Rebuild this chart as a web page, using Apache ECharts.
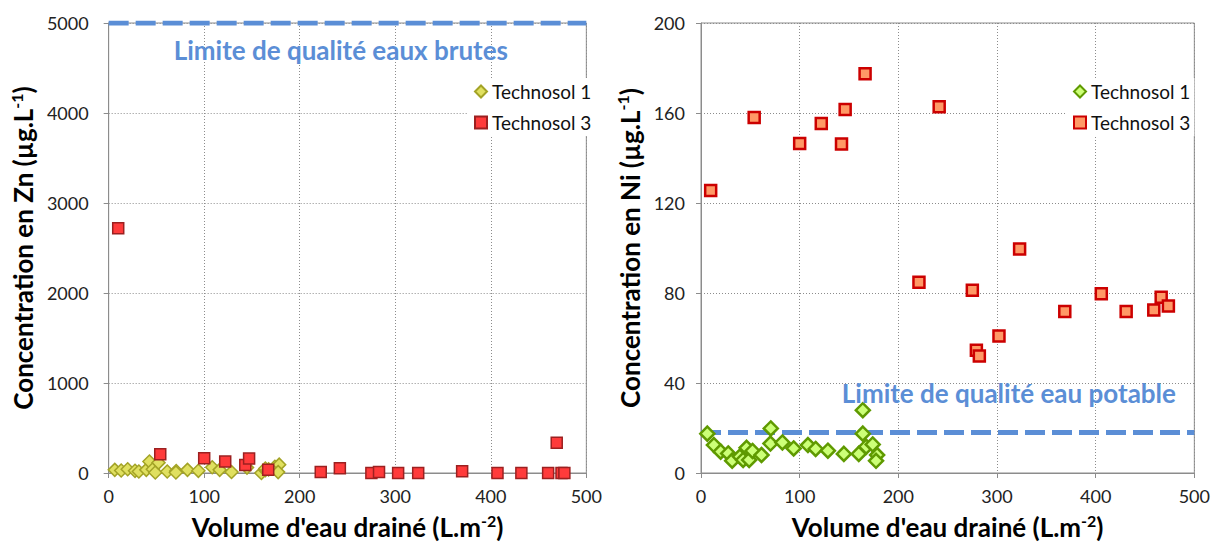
<!DOCTYPE html>
<html><head><meta charset="utf-8">
<script src="https://cdn.jsdelivr.net/npm/echarts@6/dist/echarts.min.js"></script>
<style>
html,body{margin:0;padding:0;background:#fff;width:1213px;height:545px;overflow:hidden}
#c1{position:absolute;left:0;top:0;width:605px;height:545px}
#c2{position:absolute;left:605px;top:0;width:608px;height:545px}
</style>
</head><body><div id="c1"></div><div id="c2"></div>
<script>
// ---- tick labels ----
const xTicks = [0, 100, 200, 300, 400, 500];
const znTicks = [0, 1000, 2000, 3000, 4000, 5000];
const niTicks = [0, 40, 80, 120, 160, 200];

// ---- Technosol 1 (shared drained volumes) ----
const t1Volume = [6.4, 13.1, 19.9, 27.6, 31.6, 39.4, 42.7, 46.2, 48.8, 52.2, 61.3, 70.7, 70.4, 82.5, 93.9, 108.4, 116.2, 128.6, 144.8, 159.9, 164, 164, 167.4, 174, 178.5, 177.4];
const t1Zn = [35, 28, 42, 24, 17, 35, 127, 42, 5, 115, 17, 22, 5, 35, 24, 64, 35, 11, 60, 0, 30, 50, 40, 70, 93, 10];
const t1Ni = [17.5, 12.4, 9.5, 8.7, 5.5, 7.3, 5.8, 11.2, 5.8, 9.8, 8.0, 19.8, 13.1, 13.6, 10.9, 12.4, 10.7, 9.9, 8.5, 8.5, 27.9, 17.5, 11.7, 12.7, 8.0, 5.4];

// ---- Technosol 3 ----
const t3VolumeZn = [10, 54, 100, 122, 143, 147, 167, 222, 242, 275, 283, 303, 324, 370, 407, 432, 460, 469, 474, 477];
const t3Zn = [2720, 207, 163, 127, 90, 160, 35, 10, 53, 0, 10, 0, 0, 20, 0, 0, 0, 337, 0, 0];
const t3VolumeNi = [9.8, 53.9, 100, 121.9, 142.4, 146.1, 166.3, 220.9, 241.4, 275, 279.1, 282.1, 302, 322.9, 368.7, 405.7, 430.9, 458.9, 466.4, 473.7];
const t3Ni = [125.6, 158, 146.5, 155.3, 146.2, 161.6, 177.4, 84.8, 162.8, 81.2, 54.6, 52, 60.9, 99.6, 71.8, 79.7, 71.8, 72.5, 78.1, 74.2];

// ---- quality limits ----
const limitZn = 5000, limitZnLabel = 'Limite de qualité eaux brutes';
const limitNi = 18, limitNiLabel = 'Limite de qualité eau potable';

const FONT = 'Lato, "Open Sans", sans-serif';
const zip = (xs, ys) => xs.map((x, i) => [x, ys[i]]);

function titleRich(size) {
  return {
    t: {fontSize: size, fontWeight: 'bold', fontFamily: FONT, color: '#000', lineHeight: 30},
    s: {fontSize: 16, fontWeight: 'bold', fontFamily: FONT, color: '#000', lineHeight: 16, verticalAlign: 'top'}
  };
}

function makeOption(cfg) {
  const yTicks = cfg.yTicks;
  return {
    animation: false,
    backgroundColor: '#fff',
    grid: {left: cfg.gridLeft, right: cfg.gridRight, top: 23, bottom: 68.5, show: true, borderColor: '#8c8c8c', borderWidth: 1, backgroundColor: 'transparent'},
    legend: {
      orient: 'vertical', left: cfg.legendLeft, top: 78, itemGap: 12, itemWidth: 12, itemHeight: 12,
      backgroundColor: '#fff', padding: [4, 4, 4, 6],
      textStyle: {fontSize: 19, fontFamily: FONT, color: '#111'},
      data: [{name: 'Technosol 1', icon: 'diamond'}, {name: 'Technosol 3', icon: 'rect'}]
    },
    xAxis: {
      type: 'value', min: xTicks[0], max: xTicks[xTicks.length - 1], interval: xTicks[1] - xTicks[0],
      name: '{t|Volume d\'eau drainé (L.m}{s|-2}{t|)}', nameLocation: 'middle', nameGap: 39,
      nameTextStyle: {rich: titleRich(26)},
      axisLine: {onZero: false, lineStyle: {color: '#8c8c8c', width: 1}},
      axisTick: {show: true, inside: false, length: 5, lineStyle: {color: '#8c8c8c'}},
      axisLabel: {fontSize: 18, fontFamily: FONT, color: '#222', margin: 14, formatter: v => String(v)},
      splitLine: {show: true, lineStyle: {color: '#8c8c8c', type: [1, 2], width: 1}}
    },
    yAxis: {
      type: 'value', min: yTicks[0], max: yTicks[yTicks.length - 1], interval: yTicks[1] - yTicks[0],
      name: cfg.yName, nameLocation: 'middle', nameGap: cfg.nameGapY,
      nameTextStyle: {rich: titleRich(26)},
      axisLine: {show: true, lineStyle: {color: '#8c8c8c', width: 1}},
      axisTick: {show: true, inside: false, length: 5, lineStyle: {color: '#8c8c8c'}},
      axisLabel: {fontSize: 18, fontFamily: FONT, color: '#222', margin: cfg.labelMargin, formatter: v => String(v)},
      splitLine: {show: true, lineStyle: {color: '#8c8c8c', type: [1, 2], width: 1}}
    },
    series: [
      {
        name: 'limit', type: 'line', z: 1, silent: true, symbol: 'none',
        data: [[xTicks[0], cfg.limit], [xTicks[xTicks.length - 1], cfg.limit]],
        lineStyle: {color: '#5b8ed6', width: 5, type: [20, 7]}
      },
      {
        name: 'Technosol 1', type: 'scatter', z: 3, symbol: 'diamond', symbolSize: cfg.t1Size,
        data: cfg.t1,
        itemStyle: {color: cfg.t1Fill, borderColor: cfg.t1Border, borderWidth: cfg.t1BorderW, opacity: 1}
      },
      {
        name: 'Technosol 3', type: 'scatter', z: 4, symbol: 'rect', symbolSize: cfg.t3Size,
        data: cfg.t3,
        itemStyle: {color: cfg.t3Fill, borderColor: cfg.t3Border, borderWidth: cfg.t3BorderW, opacity: 1}
      }
    ]
  };
}

const c1 = echarts.init(document.getElementById('c1'), null, {renderer: 'svg'});
c1.setOption(makeOption({
  gridLeft: 103.5, gridRight: 8, legendLeft: 468, yTicks: znTicks, limit: limitZn,
  yName: '{t|Concentration en Zn (µg.L}{s|-1}{t|)}', nameGapY: 63, labelMargin: 20,
  t1: zip(t1Volume, t1Zn), t1Fill: '#e0e060', t1Border: '#a3a326', t1BorderW: 1.5, t1Size: 13,
  t3: zip(t3VolumeZn, t3Zn), t3Fill: '#ff3b3b', t3Border: '#9c2020', t3BorderW: 1.5, t3Size: 11
}));

const c2 = echarts.init(document.getElementById('c2'), null, {renderer: 'svg'});
c2.setOption(makeOption({
  gridLeft: 96, gridRight: 17, legendLeft: 462, yTicks: niTicks, limit: limitNi,
  yName: '{t|Concentration en Ni (µg.L}{s|-1}{t|)}', nameGapY: 53, labelMargin: 16,
  t1: zip(t1Volume, t1Ni), t1Fill: '#ccff77', t1Border: '#5f9a00', t1BorderW: 2.5, t1Size: 14,
  t3: zip(t3VolumeNi, t3Ni), t3Fill: '#ff9966', t3Border: '#cc0000', t3BorderW: 2.5, t3Size: 11
}));

// limit annotations placed through the chart's own coordinate system
function addLimitText(chart, text, dataPos) {
  const p = chart.convertToPixel({gridIndex: 0}, dataPos);
  chart.setOption({graphic: [{
    type: 'text', x: p[0], y: p[1], z: 10,
    style: {text: text, fill: '#5b8ed6', font: 'bold 26px ' + FONT, textAlign: 'center', textVerticalAlign: 'middle'}
  }]});
}
addLimitText(c1, limitZnLabel, [243, 4700]);
addLimitText(c2, limitNiLabel, [312, 35.5]);
</script>
</body></html>
